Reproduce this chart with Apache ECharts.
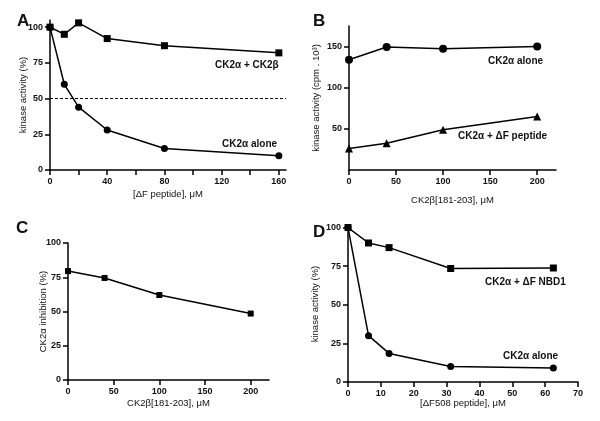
<!DOCTYPE html>
<html><head><meta charset="utf-8">
<script src="https://cdn.jsdelivr.net/npm/echarts@6/dist/echarts.min.js"></script>
<style>html,body{margin:0;padding:0;background:#fff}#c{width:600px;height:421px}</style>
</head><body><div id="c"></div>
<script>
// Panel A
const xA = [0, 10, 20, 40, 80, 160];
const aCK2ab = [100, 95, 103, 92, 87, 82];
const aCK2a = [100, 60, 44, 28, 15, 10];
// Panel B
const xB = [0, 40, 100, 200];
const bAlone = [134, 149.5, 147.5, 150];
const bPeptide = [26, 32.5, 49, 65];
// Panel C
const xC = [0, 40, 100, 200];
const cInhibition = [79.5, 74.5, 62, 48.5];
// Panel D
const xD = [0, 6.25, 12.5, 31.25, 62.5];
const dNBD1 = [100, 90, 87, 73.5, 73.8];
const dAlone = [100, 30, 18.5, 10, 9];
// Tick labels
const ticksA_x = [0, 40, 80, 120, 160];
const ticksA_y = [0, 25, 50, 75, 100];
const ticksB_x = [0, 50, 100, 150, 200];
const ticksB_y = [50, 100, 150];
const ticksC_x = [0, 50, 100, 150, 200];
const ticksC_y = [0, 25, 50, 75, 100];
const ticksD_x = [0, 10, 20, 30, 40, 50, 60, 70];
const ticksD_y = [0, 25, 50, 75, 100];

const FONT = 'Liberation Sans, Arial, sans-serif';
const axisLine = {show: true, onZero: false, lineStyle: {color: '#000', width: 1.5}};
const tickStyle = {show: true, inside: false, length: 5, lineStyle: {color: '#000', width: 1.5}};
const lbl = {show: true, inside: false, color: '#111', fontSize: 9, fontWeight: 'bold', fontFamily: FONT, margin: 7};
const nameStyle = {color: '#111', fontSize: 9.5, fontFamily: FONT};

function xAxis(idx, min, max, ticks, name, gap, minor) {
  return {type: 'value', gridIndex: idx, min, max, name, nameLocation: 'middle', nameGap: gap,
    nameMoveOverlap: false,
    nameTextStyle: nameStyle, axisLine, splitLine: {show: false},
    axisTick: Object.assign({}, tickStyle, {customValues: minor || ticks}),
    axisLabel: Object.assign({}, lbl, {customValues: ticks})};
}
function yAxis(idx, min, max, ticks, name, gap) {
  return {type: 'value', gridIndex: idx, min, max, name, nameLocation: 'middle', nameGap: gap,
    nameMoveOverlap: false,
    nameTextStyle: nameStyle, axisLine, splitLine: {show: false},
    axisTick: Object.assign({}, tickStyle, {customValues: ticks}),
    axisLabel: Object.assign({}, lbl, {customValues: ticks})};
}
function zip(xs, ys) { return xs.map((x, i) => [x, ys[i]]); }
function line(idx, xs, ys, symbol, size) {
  return {type: 'line', xAxisIndex: idx, yAxisIndex: idx, data: zip(xs, ys), symbol, symbolSize: size,
    showAllSymbol: true, lineStyle: {color: '#000', width: 1.5}, itemStyle: {color: '#000'},
    animation: false, silent: true};
}

const chart = echarts.init(document.getElementById('c'), null, {renderer: 'canvas'});
const txt = (x, y, t, size, bold) => ({type: 'text', left: x, top: y,
  style: {text: t, fontSize: size || 10, fontWeight: bold === false ? 'normal' : 'bold', fontFamily: FONT, fill: '#111'}});

chart.setOption({
  backgroundColor: '#fff',
  animation: false,
  grid: [
    {left: 50, top: 20, width: 236, height: 150},
    {left: 349, top: 26, width: 207, height: 144},
    {left: 68, top: 243, width: 201, height: 137},
    {left: 348, top: 226, width: 230, height: 156}
  ],
  xAxis: [
    xAxis(0, 0, 165, ticksA_x, '[ΔF peptide], μM', 19, [0, 20, 40, 60, 80, 100, 120, 140, 160]),
    xAxis(1, 0, 220, ticksB_x, 'CK2β[181-203], μM', 25),
    xAxis(2, 0, 220, ticksC_x, 'CK2β[181-203], μM', 18),
    xAxis(3, 0, 70, ticksD_x, '[ΔF508 peptide], μM', 16)
  ],
  yAxis: [
    yAxis(0, 0, 105, ticksA_y, 'kinase activity (%)', 22),
    yAxis(1, 0, 175, ticksB_y, 'kinase activity (cpm . 10³)', 28),
    yAxis(2, 0, 100, ticksC_y, 'CK2α inhibition (%)', 20),
    yAxis(3, 0, 101, ticksD_y, 'kinase activity (%)', 28)
  ],
  series: [
    Object.assign(line(0, xA, aCK2ab, 'rect', 7), {
      markLine: {silent: true, symbol: 'none', label: {show: false},
        lineStyle: {color: '#000', type: [3, 2], width: 1}, data: [{yAxis: 50}]}}),
    line(0, xA, aCK2a, 'circle', 7),
    line(1, xB, bAlone, 'circle', 8),
    line(1, xB, bPeptide, 'triangle', 8),
    line(2, xC, cInhibition, 'rect', 6),
    line(3, xD, dNBD1, 'rect', 7),
    line(3, xD, dAlone, 'circle', 7)
  ],
  graphic: [
    txt(17, 13, 'A', 17),
    txt(313, 13, 'B', 17),
    txt(16, 220, 'C', 17),
    txt(313, 224, 'D', 17),
    txt(215, 60, 'CK2α + CK2β'),
    txt(222, 139, 'CK2α alone'),
    txt(488, 56, 'CK2α alone'),
    txt(458, 131, 'CK2α + ΔF peptide'),
    txt(485, 277, 'CK2α + ΔF NBD1'),
    txt(503, 351, 'CK2α alone')
  ]
});
</script></body></html>
